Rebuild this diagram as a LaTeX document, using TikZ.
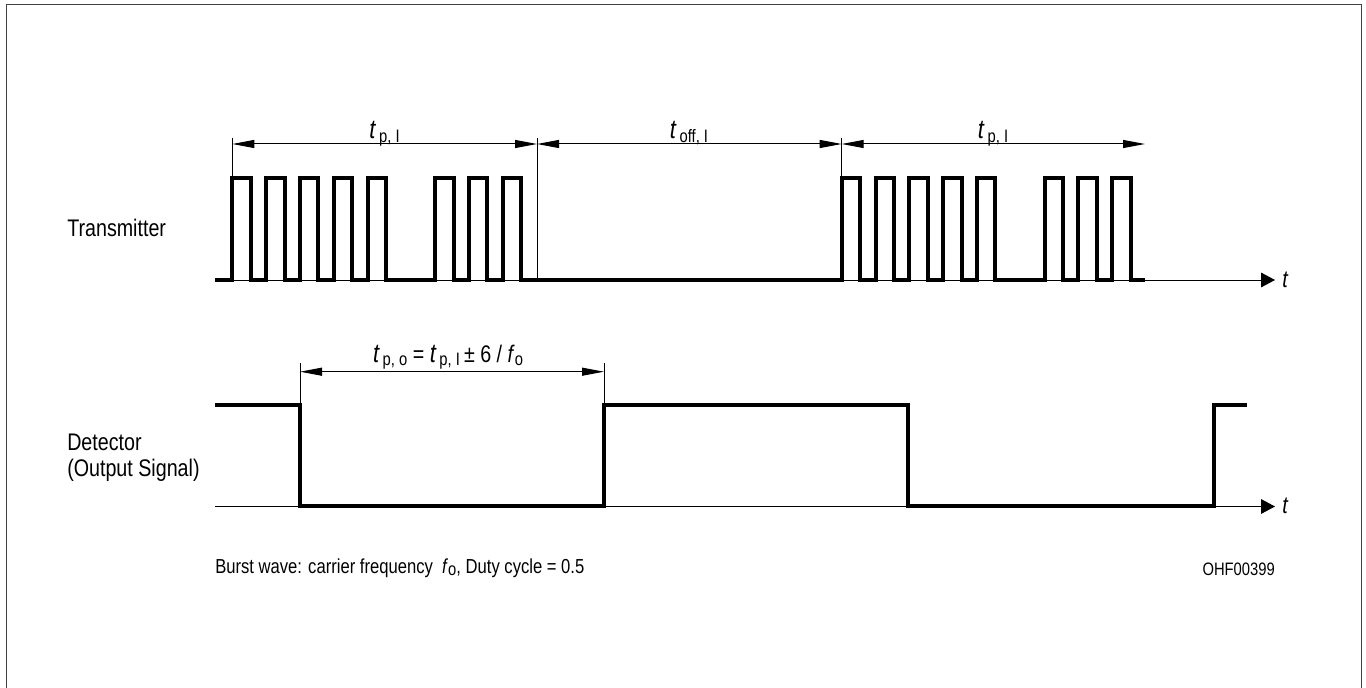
\documentclass[tikz,border=0pt]{standalone}
\usepackage{fontspec}
\setmainfont{Liberation Sans}[FakeStretch=0.82]
\usetikzlibrary{arrows.meta}

\newcommand{\tsub}[1]{\hspace{0.12em}\raisebox{-0.25ex}{\fontsize{13.5}{14}\selectfont #1}}
\newcommand{\fsub}[1]{\raisebox{-0.25ex}{\fontsize{13.5}{14}\selectfont #1}}
\newcommand{\tvar}{{\fontsize{20}{22}\selectfont\textit{t}}}

\tikzset{
  sig/.style={line width=3pt, line join=miter},
  hair/.style={line width=0.75pt},
  dimarrow/.style={hair, {Triangle[length=16.5pt,width=6pt]}-{Triangle[length=16.5pt,width=6pt]}},
  taxis/.style={hair, -{Triangle[length=10.5pt,width=11pt]}},
  lbl/.style={inner sep=0pt, font=\fontsize{18}{21}\selectfont},
  small/.style={inner sep=0pt, font=\fontsize{15.2}{18}\selectfont},
}

\begin{document}
\begin{tikzpicture}[x=0.75pt,y=0.75pt,yscale=-1,xscale=1]
        \useasboundingbox (0,0) rectangle (1366,688);

        %Shape: Frame
        \draw[hair, black!75] (6,695) -- (6,5) -- (1361,5) -- (1361,695);

        % Coordinates for the dimension lines
        \coordinate (ta) at (232.3,144);
        \coordinate (tb) at (537,144);
        \coordinate (tc) at (841.7,144);
        \coordinate (td) at (1145,144);
        \coordinate (da) at (300,371.7);
        \coordinate (db) at (604,371.7);

        %Shape: Time axes
        \coordinate (ax1) at (215,280);
        \coordinate (ax1e) at (1275,280);
        \coordinate (ax2) at (215,506.5);
        \coordinate (ax2e) at (1275,506.5);
        \draw[taxis] (ax1) -- (ax1e);
        \draw[taxis] (ax2) -- (ax2e);

        %Shape: Transmitter bursts
        \draw[sig] (215,280)
          foreach \k in {0,...,4,6,7,8} { -- ({232.3+33.8*\k},280) -- ++(0,-102) -- ++(18.5,0) -- ++(0,102) }
          foreach \k in {0,...,4,6,7,8} { -- ({841.7+33.8*\k},280) -- ++(0,-102) -- ++(18.5,0) -- ++(0,102) }
          -- (1145,280);

        %Shape: Detector output
        \draw[sig] (215,405) -- (300,405) -- (300,506) -- (604,506) -- (604,405)
          -- (908,405) -- (908,506) -- (1214,506) -- (1214,405) -- (1247,405);

        %Shape: Marker lines
        \draw[hair] (ta) ++(0,-6) -- (232.3,178);
        \draw[hair] (tb) ++(0,-6) -- (537,280);
        \draw[hair] (tc) ++(0,-6) -- (841.7,178);
        \draw[hair] (da) ++(0,-8.7) -- (300,405);
        \draw[hair] (db) ++(0,-8.7) -- (604,405);

        %Shape: Dimension arrows
        \draw[dimarrow] (ta) -- (tb);
        \draw[dimarrow] (tb) -- (tc);
        \draw[dimarrow] (tc) -- (td);
        \draw[dimarrow] (da) -- (db);

        % Text Node
        \draw (384.5,139) node [lbl, anchor=base] (tp1) {\tvar\tsub{p, I}};
        % Text Node
        \draw (689,139) node [lbl, anchor=base] (toff) {\tvar\tsub{off, I}};
        % Text Node
        \draw (993,139) node [lbl, anchor=base] (tp2) {\tvar\tsub{p, I}};
        % Text Node
        \draw (448,362) node [lbl, anchor=base] (tpo) {\tvar\tsub{p, o} = \tvar\tsub{p, I}\,± 6 / \textit{f}\fsub{o}};
        % Text Node
        \draw (67,236) node [lbl, anchor=base west] (trans) {Transmitter};
        % Text Node
        \draw (67,450) node [lbl, anchor=base west] (det) {Detector};
        % Text Node
        \draw (67,476) node [lbl, anchor=base west] (outsig) {(Output Signal)};
        % Text Node
        \draw (1282,287) node [lbl, anchor=base west] (t1) {\textit{t}};
        % Text Node
        \draw (1282,513) node [lbl, anchor=base west] (t2) {\textit{t}};
        % Text Node
        \draw (215,573) node [small, anchor=base west] (burst) {Burst wave: carrier frequency \ \textit{f}\fsub{o}, Duty cycle = 0.5};
        % Text Node
        \draw (1275,575) node [inner sep=0pt, font=\fontsize{13.5}{15}\selectfont, anchor=base east] (code) {OHF00399};

\end{tikzpicture}
\end{document}
